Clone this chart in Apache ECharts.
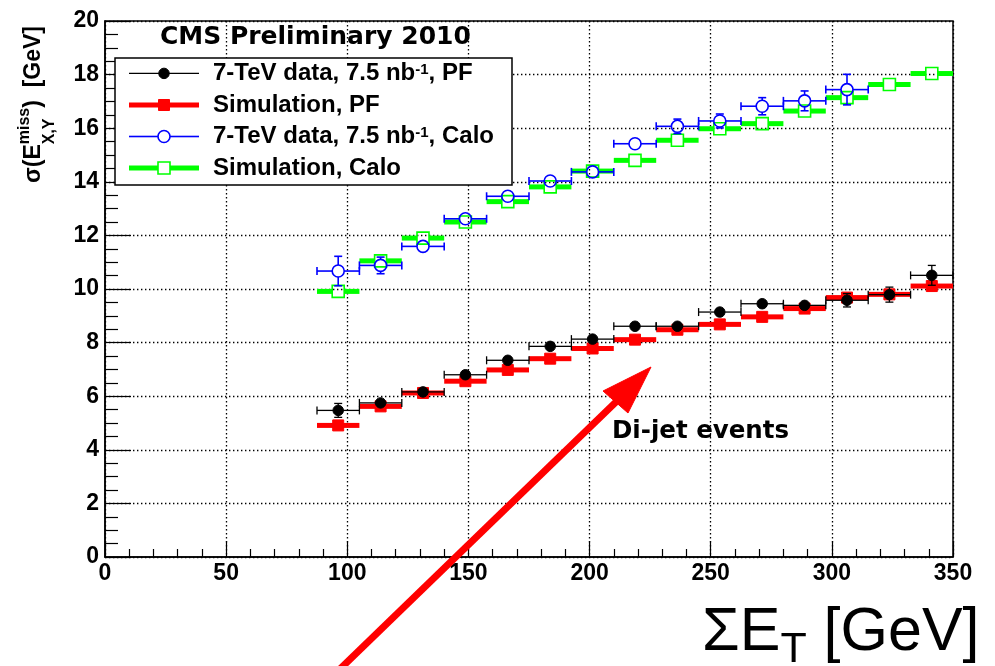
<!DOCTYPE html>
<html>
<head>
<meta charset="utf-8">
<title>MET resolution vs sum ET</title>
<script src="https://cdn.jsdelivr.net/npm/echarts@6/dist/echarts.min.js"></script>
<style>
  html, body { margin: 0; padding: 0; background: #ffffff; }
  #chart { width: 995px; height: 666px; }
</style>
</head>
<body>
<div id="chart"></div>
<script>
// ---- data -------------------------------------------------------------
// Sum-ET bin centres [GeV]; every bin is 17.5 GeV wide.
const binCenters = [96.25, 113.75, 131.25, 148.75, 166.25, 183.75, 201.25, 218.75,
                    236.25, 253.75, 271.25, 288.75, 306.25, 323.75, 341.25];
const binHalfWidth = 8.75;

// Particle-flow MET resolution [GeV]
const pfData    = [5.47, 5.75, 6.16, 6.80, 7.34, 7.86, 8.13, 8.61, 8.61, 9.14, 9.45, 9.39, 9.58, 9.79, 10.51];
const pfDataErr = [0.26, 0.12, 0.12, 0.12, 0.12, 0.12, 0.12, 0.12, 0.12, 0.12, 0.12, 0.12, 0.25, 0.28, 0.37];
const pfSim     = [4.91, 5.62, 6.12, 6.56, 6.98, 7.40, 7.78, 8.11, 8.48, 8.68, 8.96, 9.27, 9.68, 9.80, 10.11];

// Calorimeter MET resolution [GeV] (data stops at the 13th bin)
const caloData    = [10.67, 10.88, 11.59, 12.62, 13.46, 14.03, 14.37, 15.42, 16.07, 16.27, 16.82, 17.02, 17.44];
const caloDataErr = [0.55, 0.31, 0.15, 0.15, 0.12, 0.12, 0.12, 0.15, 0.27, 0.26, 0.32, 0.37, 0.57];
const caloSim     = [9.91, 11.05, 11.90, 12.50, 13.26, 13.81, 14.40, 14.80, 15.55, 15.98, 16.17, 16.64, 17.14, 17.63, 18.04];

// axis ticks
const xTickValues = [0, 50, 100, 150, 200, 250, 300, 350];
const yTickValues = [0, 2, 4, 6, 8, 10, 12, 14, 16, 18, 20];

// texts
const legendLabels = ['7-TeV data, 7.5 nb^{-1}, PF', 'Simulation, PF',
                      '7-TeV data, 7.5 nb^{-1}, Calo', 'Simulation, Calo'];
const headerText = 'CMS Preliminary 2010';
const noteText = 'Di-jet events';
const xTitle = '\u03A3E_{T} [GeV]';
const yTitle = '\u03C3(E^{miss}_{X,Y})  [GeV]';

// ---- styles -----------------------------------------------------------
const RED = '#ff0000', GREEN = '#00ff00', BLUE = '#0000ff', BLACK = '#000000';
const SANS = '"Liberation Sans", Arial, sans-serif';
const WIDE = '"DejaVu Sans", sans-serif';

const styles = {
  pfData:   { color: BLACK, kind: 'data', lineWidth: 1.3, cap: 4, marker: 'circle', size: 10.5, filled: true },
  pfSim:    { color: RED,   kind: 'sim',  lineWidth: 5,   marker: 'square', size: 11, filled: true },
  caloData: { color: BLUE,  kind: 'data', lineWidth: 1.6, cap: 4, marker: 'circle', size: 12, filled: false },
  caloSim:  { color: GREEN, kind: 'sim',  lineWidth: 5,   marker: 'square', size: 12, filled: false }
};

// ---- text helpers -------------------------------------------------------
const measureCtx = document.createElement('canvas').getContext('2d');
function measure(str, font) { measureCtx.font = font; return measureCtx.measureText(str).width; }
function fontOf(o, size) { return o.weight + ' ' + size + 'px ' + o.family; }

function textEl(text, x, baseline, font, size, fill, z) {
  return {
    type: 'text', x: x, y: baseline - 0.35 * size, z: z || 0,
    style: { text: text, font: font, fill: fill,
             align: 'left', verticalAlign: 'middle',
             textAlign: 'left', textVerticalAlign: 'middle' }
  };
}

// parse "a^{b}_{c}d" into base / sup / sub runs
function parseScript(src) {
  const out = []; let buf = ''; let i = 0;
  while (i < src.length) {
    const ch = src[i];
    if ((ch === '^' || ch === '_') && src[i + 1] === '{') {
      if (buf) { out.push({ text: buf, kind: 'base' }); buf = ''; }
      const end = src.indexOf('}', i + 2);
      out.push({ text: src.slice(i + 2, end), kind: ch === '^' ? 'sup' : 'sub' });
      i = end + 1;
    } else { buf += ch; i++; }
  }
  if (buf) out.push({ text: buf, kind: 'base' });
  return out;
}

// lay out a scripted string from local (0, baseline 0) to the right
function scriptText(src, o) {
  const toks = parseScript(src);
  const kids = []; let x = 0;
  for (let k = 0; k < toks.length; k++) {
    const t = toks[k];
    if (t.kind === 'base') {
      const f = fontOf(o, o.size);
      kids.push(textEl(t.text, x, 0, f, o.size, o.fill, o.z));
      x += measure(t.text, f);
    } else {
      const f = fontOf(o, o.scriptSize);
      let w = measure(t.text, f);
      kids.push(textEl(t.text, x, t.kind === 'sup' ? -o.rise : o.drop, f, o.scriptSize, o.fill, o.z));
      const nx = toks[k + 1];
      if (nx && nx.kind !== 'base' && nx.kind !== t.kind) {
        const w2 = measure(nx.text, f);
        kids.push(textEl(nx.text, x, nx.kind === 'sup' ? -o.rise : o.drop, f, o.scriptSize, o.fill, o.z));
        w = Math.max(w, w2);
        k++;
      }
      x += w + (o.scriptGap || 0);
    }
  }
  return kids;
}

// ---- mark renderers -------------------------------------------------------
function markerShape(st, cx, cy) {
  const h = st.size / 2;
  const style = st.filled ? { fill: st.color, stroke: st.color, lineWidth: 1 }
                          : { fill: 'none', stroke: st.color, lineWidth: 1.6 };
  if (st.marker === 'circle') return { type: 'circle', shape: { cx: cx, cy: cy, r: h }, style: style };
  return { type: 'rect', shape: { x: cx - h, y: cy - h, width: 2 * h, height: 2 * h }, style: style };
}

function makeRenderer(st) {
  return function (params, api) {
    const x = api.value(0), y = api.value(1), ey = api.value(2) || 0;
    const c = api.coord([x, y]);
    const cx = c[0], cy = c[1];
    const xl = api.coord([x - binHalfWidth, y])[0];
    const xr = api.coord([x + binHalfWidth, y])[0];
    const gap = st.filled ? 0 : st.size / 2;
    const ls = { stroke: st.color, lineWidth: st.lineWidth, fill: 'none' };
    const kids = [];
    const seg = function (x1, y1, x2, y2) {
      kids.push({ type: 'line', shape: { x1: x1, y1: y1, x2: x2, y2: y2 }, style: ls });
    };
    seg(xl, cy, cx - gap, cy);
    seg(cx + gap, cy, xr, cy);
    if (st.kind === 'data') {
      seg(xl, cy - st.cap, xl, cy + st.cap);
      seg(xr, cy - st.cap, xr, cy + st.cap);
      const yt = api.coord([x, y + ey])[1];
      const yb = api.coord([x, y - ey])[1];
      if (cy - yt > st.size / 2 + 0.5) {
        seg(cx, yt, cx, cy - gap);
        seg(cx, cy + gap, cx, yb);
        seg(cx - st.cap, yt, cx + st.cap, yt);
        seg(cx - st.cap, yb, cx + st.cap, yb);
      }
    }
    kids.push(markerShape(st, cx, cy));
    return { type: 'group', children: kids };
  };
}

function seriesOf(name, values, errs, st, z) {
  return {
    name: name, type: 'custom', z: z, clip: false,
    renderItem: makeRenderer(st),
    encode: { x: 0, y: 1 },
    data: values.map(function (v, i) { return [binCenters[i], v, errs ? errs[i] : 0]; })
  };
}

// ---- legend / annotations (drawn as graphics) -----------------------------
function legendGraphics() {
  const box = { x: 115, y: 58, w: 397, h: 127 };
  const rows = [73.4, 105, 136.5, 168];
  const order = [styles.pfData, styles.pfSim, styles.caloData, styles.caloSim];
  const els = [{
    type: 'rect', z: 100,
    shape: { x: box.x, y: box.y, width: box.w, height: box.h },
    style: { fill: '#ffffff', stroke: BLACK, lineWidth: 1.5 }
  }];
  const o = { family: SANS, weight: 'bold', size: 24, scriptSize: 15, rise: 7, drop: 6, fill: BLACK, z: 101 };
  rows.forEach(function (ry, i) {
    const st = order[i];
    const gap = st.filled ? 0 : st.size / 2;
    const lw = st.kind === 'sim' ? 5 : st.lineWidth;
    const mx = 164;
    els.push({ type: 'line', z: 101, shape: { x1: 129, y1: ry, x2: mx - gap, y2: ry }, style: { stroke: st.color, lineWidth: lw } });
    els.push({ type: 'line', z: 101, shape: { x1: mx + gap, y1: ry, x2: 199, y2: ry }, style: { stroke: st.color, lineWidth: lw } });
    const m = markerShape(st, mx, ry); m.z = 102;
    els.push(m);
    els.push({ type: 'group', x: 213, y: ry + 0.35 * o.size, children: scriptText(legendLabels[i], o) });
  });
  return els;
}

const graphics = [].concat(
  legendGraphics(),
  [
    textEl(headerText, 160, 46.7, 'bold 25px ' + WIDE, 25, BLACK, 90),
    textEl(noteText, 612, 440, 'bold 24.5px ' + WIDE, 24.5, BLACK, 90),
    // x-axis title
    { type: 'group', x: 702, y: 655, z: 90,
      children: scriptText(xTitle, { family: SANS, weight: 'normal', size: 61, scriptSize: 43, rise: 20, drop: 10, fill: BLACK, z: 90 }) },
    // y-axis title, reading bottom to top
    { type: 'group', x: 42, y: 183, rotation: Math.PI / 2, z: 90,
      children: scriptText(yTitle, { family: SANS, weight: 'bold', size: 23, scriptSize: 16, rise: 12, drop: 13, fill: BLACK, z: 90 }) },
    // red arrow pointing at the PF curves
    { type: 'line', z: 120, shape: { x1: 340, y1: 669, x2: 618, y2: 400 },
      style: { stroke: RED, lineWidth: 7 } },
    { type: 'polygon', z: 120, shape: { points: [[651, 367], [603, 391], [628, 413]] },
      style: { fill: RED, stroke: RED, lineWidth: 1 } }
  ]
);

// ---- chart ------------------------------------------------------------------
const labelStyle = { color: BLACK, fontFamily: SANS, fontWeight: 'bold', fontSize: 23 };
const gridLine = { show: true, lineStyle: { color: BLACK, width: 1.3, type: [1.4, 2.6] } };

const option = {
  animation: false,
  backgroundColor: '#ffffff',
  grid: { left: 105, right: 42, top: 21, bottom: 109, containLabel: false, outerBoundsMode: 'none',
          show: true, borderColor: BLACK, borderWidth: 1.5, backgroundColor: 'transparent' },
  xAxis: {
    type: 'value',
    min: xTickValues[0], max: xTickValues[xTickValues.length - 1],
    interval: xTickValues[1] - xTickValues[0],
    axisLine: { show: true, onZero: false, lineStyle: { color: BLACK, width: 1.5 } },
    axisTick: { show: true, inside: true, length: 16, lineStyle: { color: BLACK, width: 1.2 } },
    minorTick: { show: true, splitNumber: 5, length: 8, lineStyle: { color: BLACK, width: 1.2 } },
    splitLine: gridLine,
    axisLabel: Object.assign({ margin: 5, showMinLabel: true, showMaxLabel: true, hideOverlap: false }, labelStyle)
  },
  yAxis: {
    type: 'value',
    min: yTickValues[0], max: yTickValues[yTickValues.length - 1],
    interval: yTickValues[1] - yTickValues[0],
    axisLine: { show: true, onZero: false, lineStyle: { color: BLACK, width: 1.5 } },
    axisTick: { show: true, inside: true, length: 26, lineStyle: { color: BLACK, width: 1.2 } },
    minorTick: { show: true, splitNumber: 4, length: 13, lineStyle: { color: BLACK, width: 1.2 } },
    splitLine: gridLine,
    axisLabel: Object.assign({ margin: 6, showMinLabel: true, showMaxLabel: true, hideOverlap: false }, labelStyle)
  },
  series: [
    seriesOf('Simulation, Calo', caloSim, null, styles.caloSim, 2),
    seriesOf('Simulation, PF', pfSim, null, styles.pfSim, 2),
    seriesOf('7-TeV data, Calo', caloData, caloDataErr, styles.caloData, 3),
    seriesOf('7-TeV data, PF', pfData, pfDataErr, styles.pfData, 3)
  ],
  graphic: { elements: graphics }
};

const chart = echarts.init(document.getElementById('chart'), null, { renderer: 'canvas' });
chart.setOption(option);
</script>
</body>
</html>
